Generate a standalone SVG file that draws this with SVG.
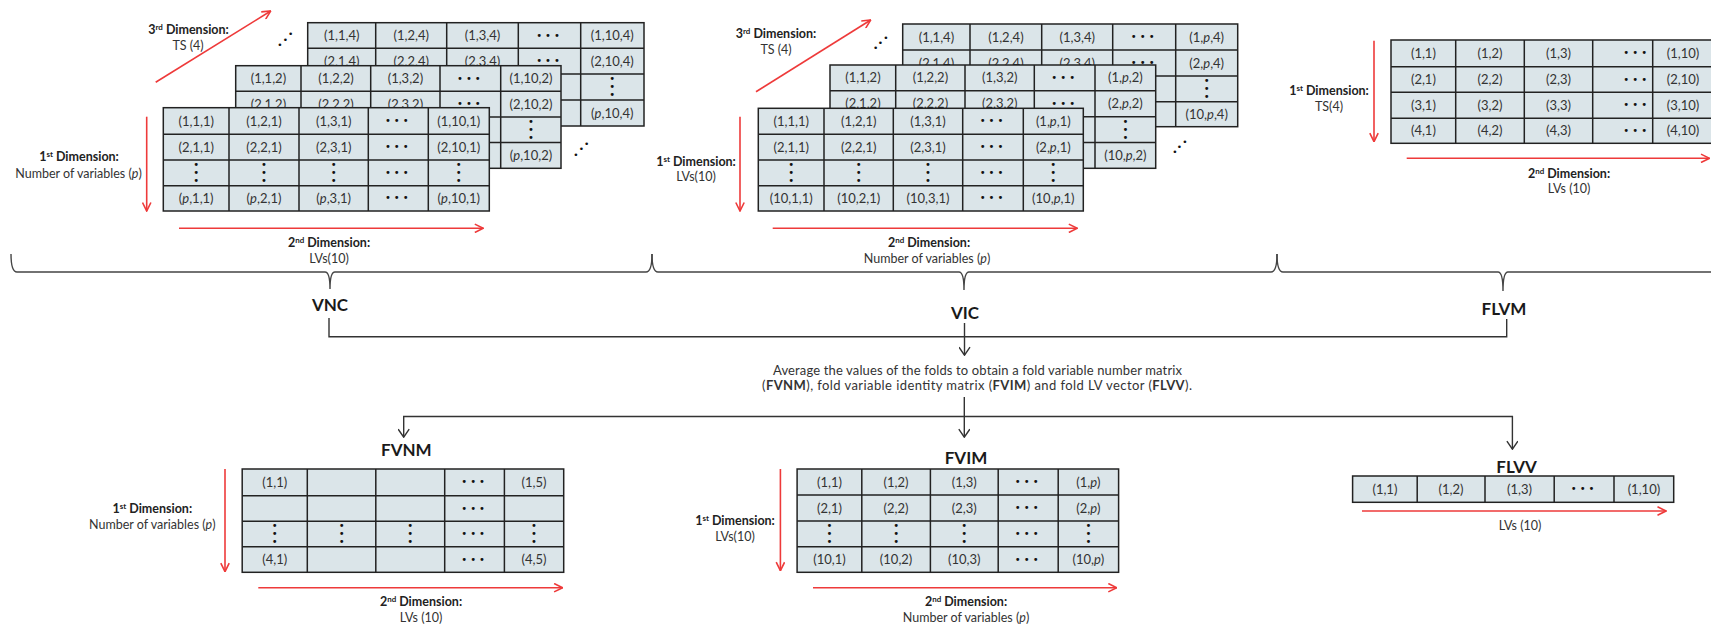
<svg xmlns="http://www.w3.org/2000/svg" width="1711" height="626" viewBox="0 0 1711 626">
<defs>
<style>
.cell{fill:#dbe5e9;stroke:#222;stroke-width:1.5}
.grid{fill:none;stroke:#222;stroke-width:1.5}
text{font-family:Lato,"Open Sans","DejaVu Sans",sans-serif}
.c{font-size:13px;fill:#333;text-anchor:middle}
.d{font-family:"DejaVu Sans",sans-serif;font-size:10px;fill:#111;text-anchor:middle;letter-spacing:3px}
.v{font-family:"DejaVu Sans",sans-serif;font-size:10px;fill:#111;text-anchor:middle}
.lb{font-size:12.5px;font-weight:bold;fill:#222;text-anchor:middle}
.ln{font-size:12.5px;fill:#333;text-anchor:middle}
.sup{font-size:8px}
.t{font-size:17px;font-weight:bold;fill:#1a1a1a;text-anchor:middle}
.i{font-style:italic}
.avg{font-size:13px;fill:#333}
.red{fill:none;stroke:#ee3a3a;stroke-width:1.6;marker-end:url(#ra)}
.con{fill:none;stroke:#333;stroke-width:1.4}
.arr{marker-end:url(#ka)}
.brace{fill:none;stroke:#444;stroke-width:1.4}
</style>
<marker id="ra" viewBox="0 0 10 10" refX="9.5" refY="5" markerWidth="10" markerHeight="10" markerUnits="userSpaceOnUse" orient="auto"><path d="M1,0.8 L9.5,5 L1,9.2" fill="none" stroke="#ee3a3a" stroke-width="1.6"/></marker>
<marker id="ka" viewBox="0 0 12 12" refX="10.8" refY="6" markerWidth="12" markerHeight="12" markerUnits="userSpaceOnUse" orient="auto"><path d="M3,0.5 L11,6 L3,11.5" fill="none" stroke="#333" stroke-width="1.4"/></marker>
</defs>
<rect width="1711" height="626" fill="#fff"/>

<!-- VNC stacked matrices -->
<g id="vnc">
 <g id="vnc-l4">
  <rect class="cell" x="307.7" y="22.7" width="336.3" height="103.3"/>
  <path class="grid" d="M375.7,22.7V126M446.7,22.7V126M518.3,22.7V126M580.7,22.7V126M307.7,48.3H644M307.7,74H644M307.7,100H644"/>
  <text class="c" x="341.7" y="40">(1,1,4)</text><text class="c" x="411.2" y="40">(1,2,4)</text><text class="c" x="482.5" y="40">(1,3,4)</text><text class="d" x="549.5" y="38.5">•••</text><text class="c" x="612.3" y="40">(1,10,4)</text>
  <text class="c" x="341.7" y="65.7">(2,1,4)</text><text class="c" x="411.2" y="65.7">(2,2,4)</text><text class="c" x="482.5" y="65.7">(2,3,4)</text><text class="d" x="549.5" y="64.2">•••</text><text class="c" x="612.3" y="65.7">(2,10,4)</text>
  <text class="v"><tspan x="612.3" y="82">•</tspan><tspan x="612.3" y="90">•</tspan><tspan x="612.3" y="98">•</tspan></text>
  <text class="c" x="612.3" y="117.5">(<tspan class="i">p</tspan>,10,4)</text>
 </g>
 <g id="vnc-l2">
  <rect class="cell" x="235.7" y="65.7" width="325.3" height="102.6"/>
  <path class="grid" d="M301,65.7V168.3M370.7,65.7V168.3M440,65.7V168.3M500.7,65.7V168.3M235.7,91.3H561M235.7,117H561M235.7,142.6H561"/>
  <text class="c" x="268.4" y="83">(1,1,2)</text><text class="c" x="336" y="83">(1,2,2)</text><text class="c" x="405.4" y="83">(1,3,2)</text><text class="d" x="470.4" y="81.5">•••</text><text class="c" x="531" y="83">(1,10,2)</text>
  <text class="c" x="268.4" y="108.7">(2,1,2)</text><text class="c" x="336" y="108.7">(2,2,2)</text><text class="c" x="405.4" y="108.7">(2,3,2)</text><text class="d" x="470.4" y="107.2">•••</text><text class="c" x="531" y="108.7">(2,10,2)</text>
  <text class="v"><tspan x="531" y="124.8">•</tspan><tspan x="531" y="132.8">•</tspan><tspan x="531" y="140.8">•</tspan></text>
  <text class="c" x="531" y="160">(<tspan class="i">p</tspan>,10,2)</text>
 </g>
 <g id="vnc-l1">
  <rect class="cell" x="163.3" y="107.7" width="326" height="103.3"/>
  <path class="grid" d="M229,107.7V211M299,107.7V211M368.3,107.7V211M428.3,107.7V211M163.3,134.3H489.3M163.3,160H489.3M163.3,185.7H489.3"/>
  <text class="c" x="196.2" y="125.5">(1,1,1)</text><text class="c" x="264" y="125.5">(1,2,1)</text><text class="c" x="333.7" y="125.5">(1,3,1)</text><text class="d" x="398.3" y="124">•••</text><text class="c" x="458.8" y="125.5">(1,10,1)</text>
  <text class="c" x="196.2" y="151.7">(2,1,1)</text><text class="c" x="264" y="151.7">(2,2,1)</text><text class="c" x="333.7" y="151.7">(2,3,1)</text><text class="d" x="398.3" y="150.2">•••</text><text class="c" x="458.8" y="151.7">(2,10,1)</text>
  <text class="v"><tspan x="196.2" y="168">•</tspan><tspan x="196.2" y="176">•</tspan><tspan x="196.2" y="184">•</tspan></text>
  <text class="v"><tspan x="264" y="168">•</tspan><tspan x="264" y="176">•</tspan><tspan x="264" y="184">•</tspan></text>
  <text class="v"><tspan x="333.7" y="168">•</tspan><tspan x="333.7" y="176">•</tspan><tspan x="333.7" y="184">•</tspan></text>
  <text class="d" x="398.3" y="176">•••</text>
  <text class="v"><tspan x="458.8" y="168">•</tspan><tspan x="458.8" y="176">•</tspan><tspan x="458.8" y="184">•</tspan></text>
  <text class="c" x="196.2" y="203">(<tspan class="i">p</tspan>,1,1)</text><text class="c" x="264" y="203">(<tspan class="i">p</tspan>,2,1)</text><text class="c" x="333.7" y="203">(<tspan class="i">p</tspan>,3,1)</text><text class="d" x="398.3" y="201.4">•••</text><text class="c" x="458.8" y="203">(<tspan class="i">p</tspan>,10,1)</text>
 </g>
 <text class="v" style="font-size:9px"><tspan x="280" y="47.5">•</tspan><tspan x="285.3" y="42.5">•</tspan><tspan x="290.7" y="37">•</tspan></text>
 <text class="v" style="font-size:9px"><tspan x="576" y="157.5">•</tspan><tspan x="581.5" y="151.5">•</tspan><tspan x="586.7" y="146.5">•</tspan></text>
 <path class="red" d="M155.7,82.3L270.7,11"/>
 <path class="red" d="M146.7,116.7V211"/>
 <path class="red" d="M179,228.3H483.3"/>
 <text class="lb" x="188.5" y="33.5">3<tspan class="sup" dy="-4">rd</tspan><tspan dy="4"> Dimension:</tspan></text>
 <text class="ln" x="188" y="49.5">TS (4)</text>
 <text class="lb" x="79" y="161">1<tspan class="sup" dy="-4">st</tspan><tspan dy="4"> Dimension:</tspan></text>
 <text class="ln" x="78.5" y="177.5">Number of variables (<tspan class="i">p</tspan>)</text>
 <text class="lb" x="329" y="247">2<tspan class="sup" dy="-4">nd</tspan><tspan dy="4"> Dimension:</tspan></text>
 <text class="ln" x="329" y="262.5">LVs(10)</text>
 <text class="t" x="330" y="311">VNC</text>
</g>

<!-- VIC stacked matrices -->
<g id="vic">
 <g id="vic-l4">
  <rect class="cell" x="902.7" y="24" width="335" height="102.7"/>
  <path class="grid" d="M970,24V126.7M1041.7,24V126.7M1112.7,24V126.7M1175.7,24V126.7M902.7,50H1237.7M902.7,76H1237.7M902.7,101.7H1237.7"/>
  <text class="c" x="936.4" y="41.5">(1,1,4)</text><text class="c" x="1005.9" y="41.5">(1,2,4)</text><text class="c" x="1077.2" y="41.5">(1,3,4)</text><text class="d" x="1144.2" y="40">•••</text><text class="c" x="1206.7" y="41.5">(1,<tspan class="i">p</tspan>,4)</text>
  <text class="c" x="936.4" y="67.5">(2,1,4)</text><text class="c" x="1005.9" y="67.5">(2,2,4)</text><text class="c" x="1077.2" y="67.5">(2,3,4)</text><text class="d" x="1144.2" y="66">•••</text><text class="c" x="1206.7" y="67.5">(2,<tspan class="i">p</tspan>,4)</text>
  <text class="v"><tspan x="1206.7" y="84">•</tspan><tspan x="1206.7" y="92">•</tspan><tspan x="1206.7" y="100">•</tspan></text>
  <text class="c" x="1206.7" y="118.7">(10,<tspan class="i">p</tspan>,4)</text>
 </g>
 <g id="vic-l2">
  <rect class="cell" x="830" y="65" width="325.7" height="103.3"/>
  <path class="grid" d="M895.7,65V168.3M965,65V168.3M1034.3,65V168.3M1095,65V168.3M830,90.8H1155.7M830,116.7H1155.7M830,142.5H1155.7"/>
  <text class="c" x="862.9" y="82.4">(1,1,2)</text><text class="c" x="930.4" y="82.4">(1,2,2)</text><text class="c" x="999.7" y="82.4">(1,3,2)</text><text class="d" x="1064.7" y="80.9">•••</text><text class="c" x="1125.4" y="82.4">(1,<tspan class="i">p</tspan>,2)</text>
  <text class="c" x="862.9" y="108.3">(2,1,2)</text><text class="c" x="930.4" y="108.3">(2,2,2)</text><text class="c" x="999.7" y="108.3">(2,3,2)</text><text class="d" x="1064.7" y="106.8">•••</text><text class="c" x="1125.4" y="108.3">(2,<tspan class="i">p</tspan>,2)</text>
  <text class="v"><tspan x="1125.4" y="124.6">•</tspan><tspan x="1125.4" y="132.6">•</tspan><tspan x="1125.4" y="140.6">•</tspan></text>
  <text class="c" x="1125.4" y="159.9">(10,<tspan class="i">p</tspan>,2)</text>
 </g>
 <g id="vic-l1">
  <rect class="cell" x="758.3" y="108.3" width="325" height="102.7"/>
  <path class="grid" d="M824,108.3V211M893.3,108.3V211M962.7,108.3V211M1023.3,108.3V211M758.3,134.3H1083.3M758.3,160H1083.3M758.3,185.7H1083.3"/>
  <text class="c" x="791.2" y="125.8">(1,1,1)</text><text class="c" x="858.7" y="125.8">(1,2,1)</text><text class="c" x="928" y="125.8">(1,3,1)</text><text class="d" x="993" y="124.3">•••</text><text class="c" x="1053.3" y="125.8">(1,<tspan class="i">p</tspan>,1)</text>
  <text class="c" x="791.2" y="151.7">(2,1,1)</text><text class="c" x="858.7" y="151.7">(2,2,1)</text><text class="c" x="928" y="151.7">(2,3,1)</text><text class="d" x="993" y="150.2">•••</text><text class="c" x="1053.3" y="151.7">(2,<tspan class="i">p</tspan>,1)</text>
  <text class="v"><tspan x="791.2" y="168">•</tspan><tspan x="791.2" y="176">•</tspan><tspan x="791.2" y="184">•</tspan></text>
  <text class="v"><tspan x="858.7" y="168">•</tspan><tspan x="858.7" y="176">•</tspan><tspan x="858.7" y="184">•</tspan></text>
  <text class="v"><tspan x="928" y="168">•</tspan><tspan x="928" y="176">•</tspan><tspan x="928" y="184">•</tspan></text>
  <text class="d" x="993" y="176">•••</text>
  <text class="v"><tspan x="1053.3" y="168">•</tspan><tspan x="1053.3" y="176">•</tspan><tspan x="1053.3" y="184">•</tspan></text>
  <text class="c" x="791.2" y="203">(10,1,1)</text><text class="c" x="858.7" y="203">(10,2,1)</text><text class="c" x="928" y="203">(10,3,1)</text><text class="d" x="993" y="201.4">•••</text><text class="c" x="1053.3" y="203">(10,<tspan class="i">p</tspan>,1)</text>
 </g>
 <text class="v" style="font-size:9px"><tspan x="875.7" y="51">•</tspan><tspan x="880.5" y="46">•</tspan><tspan x="886" y="41">•</tspan></text>
 <text class="v" style="font-size:9px"><tspan x="1175" y="154.5">•</tspan><tspan x="1179.5" y="149.5">•</tspan><tspan x="1185" y="144.5">•</tspan></text>
 <path class="red" d="M756,91.7L870.7,20"/>
 <path class="red" d="M740,116.7V211"/>
 <path class="red" d="M772.7,228.3H1077.3"/>
 <text class="lb" x="776" y="37.5">3<tspan class="sup" dy="-4">rd</tspan><tspan dy="4"> Dimension:</tspan></text>
 <text class="ln" x="776" y="53.5">TS (4)</text>
 <text class="lb" x="696" y="166">1<tspan class="sup" dy="-4">st</tspan><tspan dy="4"> Dimension:</tspan></text>
 <text class="ln" x="696" y="181">LVs(10)</text>
 <text class="lb" x="929" y="247">2<tspan class="sup" dy="-4">nd</tspan><tspan dy="4"> Dimension:</tspan></text>
 <text class="ln" x="927" y="262.5">Number of variables (<tspan class="i">p</tspan>)</text>
 <text class="t" x="965" y="319">VIC</text>
</g>

<!-- FLVM matrix -->
<g id="flvm">
 <rect class="cell" x="1391" y="40" width="327" height="103.3"/>
 <path class="grid" d="M1455.7,40V143.3M1524.3,40V143.3M1592.7,40V143.3M1652.7,40V143.3M1391,66.7H1718M1391,92.3H1718M1391,118.3H1718"/>
 <text class="c" x="1423.4" y="57.8">(1,1)</text><text class="c" x="1490" y="57.8">(1,2)</text><text class="c" x="1558.5" y="57.8">(1,3)</text><text class="d" x="1636.7" y="56.3">•••</text><text class="c" x="1683" y="57.8">(1,10)</text>
 <text class="c" x="1423.4" y="84">(2,1)</text><text class="c" x="1490" y="84">(2,2)</text><text class="c" x="1558.5" y="84">(2,3)</text><text class="d" x="1636.7" y="82.5">•••</text><text class="c" x="1683" y="84">(2,10)</text>
 <text class="c" x="1423.4" y="109.8">(3,1)</text><text class="c" x="1490" y="109.8">(3,2)</text><text class="c" x="1558.5" y="109.8">(3,3)</text><text class="d" x="1636.7" y="108.3">•••</text><text class="c" x="1683" y="109.8">(3,10)</text>
 <text class="c" x="1423.4" y="135.3">(4,1)</text><text class="c" x="1490" y="135.3">(4,2)</text><text class="c" x="1558.5" y="135.3">(4,3)</text><text class="d" x="1636.7" y="133.8">•••</text><text class="c" x="1683" y="135.3">(4,10)</text>
 <path class="red" d="M1374,40.7V141.7"/>
 <path class="red" d="M1406.7,158.3H1709.5"/>
 <text class="lb" x="1329" y="95">1<tspan class="sup" dy="-4">st</tspan><tspan dy="4"> Dimension:</tspan></text>
 <text class="ln" x="1329" y="110.5">TS(4)</text>
 <text class="lb" x="1569" y="177.5">2<tspan class="sup" dy="-4">nd</tspan><tspan dy="4"> Dimension:</tspan></text>
 <text class="ln" x="1569" y="193">LVs (10)</text>
 <text class="t" x="1504" y="315">FLVM</text>
</g>

<!-- braces -->
<g id="braces">
 <path class="brace" d="M11,254Q11,272 17,272H325Q330,272 330,289Q330,272 335,272H646Q652,272 652,254"/>
 <path class="brace" d="M652,254Q652,272 658,272H959Q964,272 964,290Q964,272 969,272H1271Q1277,272 1277,254"/>
 <path class="brace" d="M1277,254Q1277,272 1283,272H1498Q1503,272 1503,291Q1503,272 1508,272H1711"/>
</g>

<!-- average text -->
<g id="avg">
 <text class="avg" x="773" y="374.5" textLength="409" lengthAdjust="spacing">Average the values of the folds to obtain a fold variable number matrix</text>
 <text class="avg" x="762" y="389.5" textLength="430" lengthAdjust="spacing">(<tspan font-weight="bold">FVNM</tspan>), fold variable identity matrix (<tspan font-weight="bold">FVIM</tspan>) and fold LV vector (<tspan font-weight="bold">FLVV</tspan>).</text>
</g>

<!-- connectors -->
<g id="connectors">
 <path class="con" d="M329,318V336.7H1506.7V319"/>
 <path class="con arr" d="M964.5,323V355"/>
 <path class="con arr" d="M964.3,397V437"/>
 <path class="con arr" d="M964.3,416.5H403.7V437"/>
 <path class="con arr" d="M964.3,416.5H1512.4V449"/>
</g>

<!-- FVNM -->
<g id="fvnm">
 <rect class="cell" x="242.2" y="469" width="321.5" height="103.3"/>
 <path class="grid" d="M307.3,469V572.3M375.8,469V572.3M444.7,469V572.3M504.4,469V572.3M242.2,495.7H563.7M242.2,521.3H563.7M242.2,546.7H563.7"/>
 <text class="c" x="274.8" y="486.8">(1,1)</text><text class="d" x="474.6" y="485.3">•••</text><text class="c" x="534" y="486.8">(1,5)</text>
 <text class="d" x="474.6" y="511.5">•••</text>
 <text class="v"><tspan x="274.8" y="529">•</tspan><tspan x="274.8" y="537">•</tspan><tspan x="274.8" y="545">•</tspan></text>
 <text class="v"><tspan x="341.6" y="529">•</tspan><tspan x="341.6" y="537">•</tspan><tspan x="341.6" y="545">•</tspan></text>
 <text class="v"><tspan x="410.3" y="529">•</tspan><tspan x="410.3" y="537">•</tspan><tspan x="410.3" y="545">•</tspan></text>
 <text class="d" x="474.6" y="537">•••</text>
 <text class="v"><tspan x="534" y="529">•</tspan><tspan x="534" y="537">•</tspan><tspan x="534" y="545">•</tspan></text>
 <text class="c" x="274.8" y="564">(4,1)</text><text class="d" x="474.6" y="562.5">•••</text><text class="c" x="534" y="564">(4,5)</text>
 <path class="red" d="M225,469V571.7"/>
 <path class="red" d="M258.3,587.7H562.6"/>
 <text class="t" x="406.4" y="456">FVNM</text>
 <text class="lb" x="152.3" y="512.5">1<tspan class="sup" dy="-4">st</tspan><tspan dy="4"> Dimension:</tspan></text>
 <text class="ln" x="152.3" y="529">Number of variables (<tspan class="i">p</tspan>)</text>
 <text class="lb" x="421" y="606">2<tspan class="sup" dy="-4">nd</tspan><tspan dy="4"> Dimension:</tspan></text>
 <text class="ln" x="421" y="622">LVs (10)</text>
</g>

<!-- FVIM -->
<g id="fvim">
 <rect class="cell" x="797.1" y="469" width="321.5" height="103.3"/>
 <path class="grid" d="M861.8,469V572.3M930.4,469V572.3M998.2,469V572.3M1058.2,469V572.3M797.1,495H1118.6M797.1,521H1118.6M797.1,546.7H1118.6"/>
 <text class="c" x="829.5" y="486.5">(1,1)</text><text class="c" x="896.1" y="486.5">(1,2)</text><text class="c" x="964.3" y="486.5">(1,3)</text><text class="d" x="1028.2" y="485">•••</text><text class="c" x="1088.4" y="486.5">(1,<tspan class="i">p</tspan>)</text>
 <text class="c" x="829.5" y="512.5">(2,1)</text><text class="c" x="896.1" y="512.5">(2,2)</text><text class="c" x="964.3" y="512.5">(2,3)</text><text class="d" x="1028.2" y="511">•••</text><text class="c" x="1088.4" y="512.5">(2,<tspan class="i">p</tspan>)</text>
 <text class="v"><tspan x="829.5" y="529">•</tspan><tspan x="829.5" y="537">•</tspan><tspan x="829.5" y="545">•</tspan></text>
 <text class="v"><tspan x="896.1" y="529">•</tspan><tspan x="896.1" y="537">•</tspan><tspan x="896.1" y="545">•</tspan></text>
 <text class="v"><tspan x="964.3" y="529">•</tspan><tspan x="964.3" y="537">•</tspan><tspan x="964.3" y="545">•</tspan></text>
 <text class="d" x="1028.2" y="537">•••</text>
 <text class="v"><tspan x="1088.4" y="529">•</tspan><tspan x="1088.4" y="537">•</tspan><tspan x="1088.4" y="545">•</tspan></text>
 <text class="c" x="829.5" y="564">(10,1)</text><text class="c" x="896.1" y="564">(10,2)</text><text class="c" x="964.3" y="564">(10,3)</text><text class="d" x="1028.2" y="562.5">•••</text><text class="c" x="1088.4" y="564">(10,<tspan class="i">p</tspan>)</text>
 <path class="red" d="M780.4,469V570.7"/>
 <path class="red" d="M813,587.7H1116.8"/>
 <text class="t" x="966" y="464">FVIM</text>
 <text class="lb" x="735" y="525">1<tspan class="sup" dy="-4">st</tspan><tspan dy="4"> Dimension:</tspan></text>
 <text class="ln" x="735" y="541">LVs(10)</text>
 <text class="lb" x="966" y="606">2<tspan class="sup" dy="-4">nd</tspan><tspan dy="4"> Dimension:</tspan></text>
 <text class="ln" x="966" y="622">Number of variables (<tspan class="i">p</tspan>)</text>
</g>

<!-- FLVV -->
<g id="flvv">
 <rect class="cell" x="1352.6" y="476" width="321.1" height="26.3"/>
 <path class="grid" d="M1417.2,476V502.3M1485,476V502.3M1554.2,476V502.3M1614,476V502.3"/>
 <text class="c" x="1384.9" y="493.7">(1,1)</text><text class="c" x="1451.1" y="493.7">(1,2)</text><text class="c" x="1519.6" y="493.7">(1,3)</text><text class="d" x="1584.1" y="492.2">•••</text><text class="c" x="1643.9" y="493.7">(1,10)</text>
 <path class="red" d="M1362,511H1666"/>
 <text class="t" x="1516.6" y="472.5">FLVV</text>
 <text class="ln" x="1520" y="530">LVs (10)</text>
</g>
</svg>
